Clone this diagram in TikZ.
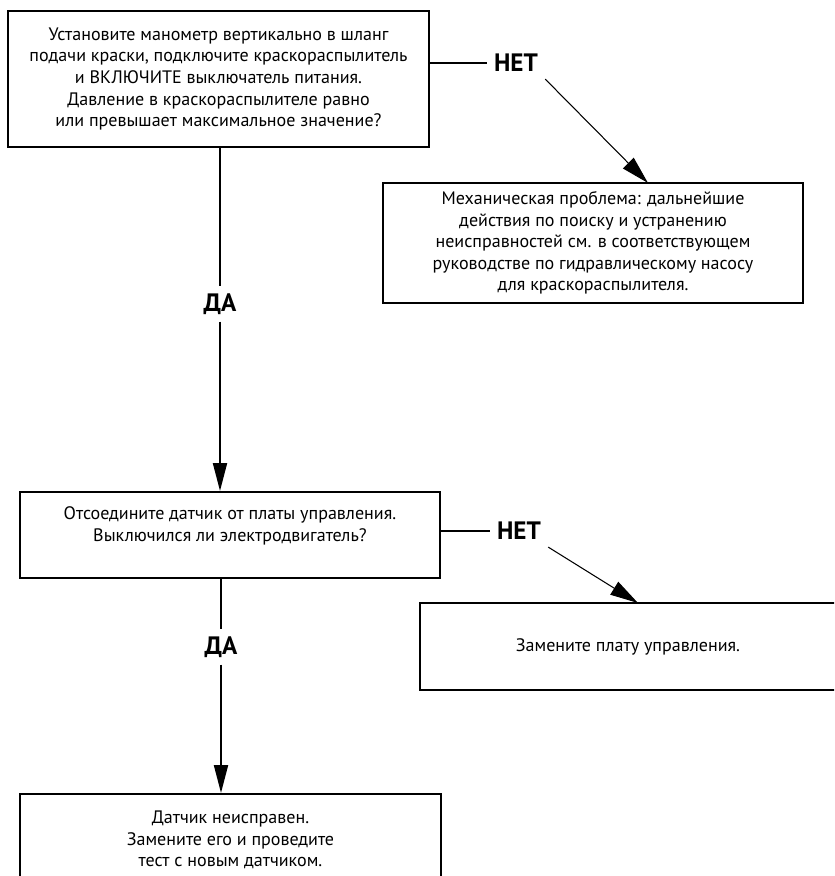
\documentclass[tikz,border=0pt]{standalone}
\usepackage{fontspec}
\setmainfont{PT Sans}
\usepackage{tikz}
\usetikzlibrary{arrows.meta}

\begin{document}
\begin{tikzpicture}[x=0.03cm, y=-0.03cm,
    box/.style={draw, line width=1.7pt, align=center, inner sep=0pt,
        font=\fontsize{15.4}{18.4}\selectfont},
    answer/.style={font=\fontsize{21.5}{24}\selectfont\bfseries, inner sep=6pt},
    link/.style={line width=1.7pt},
    flow/.style={line width=1.7pt, -{Triangle[length=0.84cm, width=0.42cm]}},
    jump/.style={line width=0.9pt, -{Triangle[length=0.84cm, width=0.45cm]}},
]
    \useasboundingbox (0,0) rectangle (834,876);
    \clip (0,0) rectangle (834,876);

    % Steps of the check
    \node[box, minimum width=12.63cm, minimum height=4.08cm] (gauge) at (218.5,79) {
        Установите манометр вертикально в шланг\\
        подачи краски, подключите краскораспылитель\\
        и ВКЛЮЧИТЕ выключатель питания.\\
        Давление в краскораспылителе равно\\
        или превышает максимальное значение?};
    \node[box, minimum width=12.6cm, minimum height=3.6cm] (pump) at (593,243) {
        Механическая проблема: дальнейшие\\
        действия по поиску и устранению\\
        неисправностей см. в соответствующем\\
        руководстве по гидравлическому насосу\\
        для краскораспылителя.};
    \node[box, minimum width=12.6cm, minimum height=2.58cm] (sensor) at (230,535) {
        Отсоедините датчик от платы управления.\\
        Выключился ли электродвигатель?\\ \mbox{}};
    \node[box, minimum width=12.48cm, minimum height=2.61cm] (board) at (628,646.5) {
        Замените плату управления.};
    \node[box, minimum width=12.63cm, minimum height=2.76cm] (faulty) at (230.5,840) {
        Датчик неисправен.\\
        Замените его и проведите\\
        тест с новым датчиком.};

    % Answers
    \node[answer] (no1) at (516,63) {НЕТ};
    \node[answer] (yes1) at (220,304) {ДА};
    \node[answer] (no2) at (519,531) {НЕТ};
    \node[answer] (yes2) at (221,647) {ДА};

    % Arrow ends on the boxes
    \coordinate (tip1) at (648,183);
    \coordinate (tip2) at (638,603);

    % Connectors
    \draw[link] (gauge.east |- no1.west) -- (no1.west);
    \draw[jump] (no1.south east) -- (tip1);
    \draw[link] (gauge.south -| yes1) -- (yes1.north);
    \draw[flow] (yes1.south) -- (yes1.south |- sensor.north);

    \draw[link] (sensor.east |- no2.west) -- (no2.west);
    \draw[jump] (no2.south east) -- (tip2);
    \draw[link] (sensor.south -| yes2) -- (yes2.north);
    \draw[flow] (yes2.south) -- (yes2.south |- faulty.north);
\end{tikzpicture}
\end{document}
